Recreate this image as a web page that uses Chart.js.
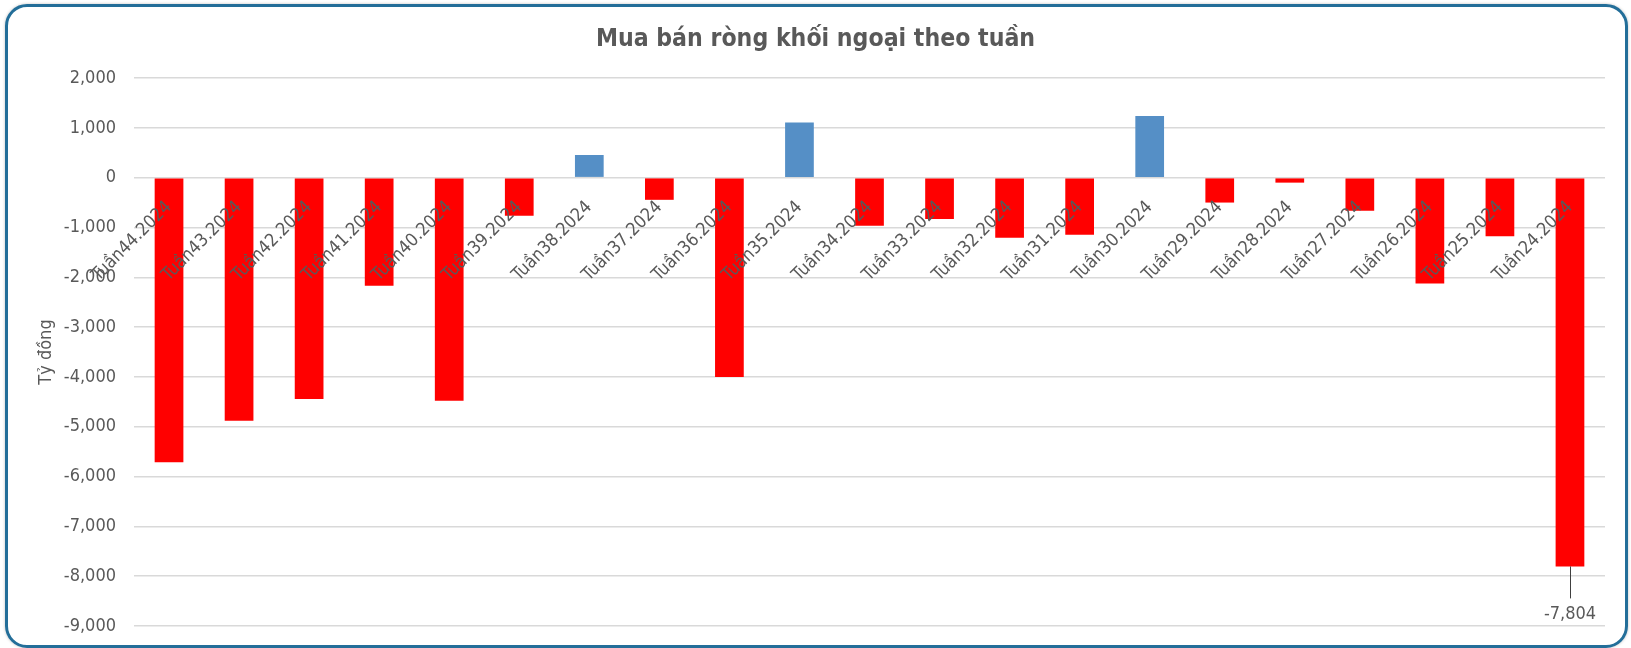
<!DOCTYPE html>
<html>
<head>
<meta charset="utf-8">
<script src="https://cdn.jsdelivr.net/npm/chart.js@4.4.1/dist/chart.umd.min.js"></script>
<style>
  html, body { margin: 0; background: #fff; overflow: hidden; }
  #wrap { position: relative; width: 1631px; height: 648px; }
  #chart { position: absolute; left: 0; top: 0; }
  #frame {
    position: absolute; left: 5px; top: 4px; width: 1623px; height: 644px;
    box-sizing: border-box; border: 3px solid #236e99; border-radius: 22px;
    box-shadow: 0 0 3px rgba(0,0,0,0.25); pointer-events: none;
  }
</style>
</head>
<body>
<div id="wrap">
  <canvas id="chart" width="1631" height="648"></canvas>
  <div id="frame"></div>
</div>
<script>
const weeks = [
  "Tuần44.2024", "Tuần43.2024", "Tuần42.2024", "Tuần41.2024", "Tuần40.2024",
  "Tuần39.2024", "Tuần38.2024", "Tuần37.2024", "Tuần36.2024", "Tuần35.2024",
  "Tuần34.2024", "Tuần33.2024", "Tuần32.2024", "Tuần31.2024", "Tuần30.2024",
  "Tuần29.2024", "Tuần28.2024", "Tuần27.2024", "Tuần26.2024", "Tuần25.2024",
  "Tuần24.2024"
]
const netValues = [
  -5715, -4880, -4445, -2170, -4480,
  -765, 455, -445, -4000, 1105,
  -965, -830, -1205, -1145, 1240,
  -500, -100, -665, -2125, -1175,
  -7804
]
const yTicks = [2000, 1000, 0, -1000, -2000, -3000, -4000, -5000, -6000, -7000, -8000, -9000]

const FONT = "'DejaVu Sans Condensed', 'DejaVu Sans', sans-serif"
const GREY = '#595959'

const barColors = netValues.map(v => v >= 0 ? '#558fc6' : '#ff0000')

// label under the biggest net sell bar, with a short leader line
const minLabel = {
  id: 'minLabel',
  afterDatasetsDraw(chart) {
    const idx = netValues.indexOf(Math.min(...netValues))
    const bar = chart.getDatasetMeta(0).data[idx]
    const ctx = chart.ctx
    ctx.save()
    ctx.strokeStyle = '#404040'
    ctx.lineWidth = 1
    ctx.beginPath()
    ctx.moveTo(Math.round(bar.x) + 0.5, bar.y)
    ctx.lineTo(Math.round(bar.x) + 0.5, bar.y + 32)
    ctx.stroke()
    ctx.fillStyle = GREY
    ctx.font = '18px ' + FONT
    ctx.textAlign = 'center'
    ctx.textBaseline = 'middle'
    ctx.fillText(netValues[idx].toLocaleString('en-US'), bar.x, bar.y + 48)
    ctx.restore()
  }
}

new Chart(document.getElementById('chart'), {
  type: 'bar',
  data: {
    labels: weeks,
    datasets: [{
      data: netValues,
      backgroundColor: barColors,
      borderWidth: 0,
      categoryPercentage: 1,
      barPercentage: 0.41
    }]
  },
  plugins: [minLabel],
  options: {
    responsive: false,
    animation: false,
    layout: { padding: { left: 26, right: 26, top: 0, bottom: 22 } },
    plugins: {
      legend: { display: false },
      tooltip: { enabled: false },
      title: {
        display: true,
        text: 'Mua bán ròng khối ngoại theo tuần',
        color: GREY,
        font: { family: FONT, size: 24.6, weight: 'bold' },
        padding: { top: 25, bottom: 23.5 }
      }
    },
    scales: {
      x: {
        position: { y: 0 },
        grid: { display: false, drawTicks: false },
        border: { display: false },
        ticks: {
          z: 1,
          color: GREY,
          font: { family: FONT, size: 18 },
          minRotation: 45,
          maxRotation: 45,
          autoSkip: false,
          padding: 19
        }
      },
      y: {
        min: -9000,
        max: 2000,
        afterBuildTicks: s => { s.ticks = yTicks.map(v => ({ value: v })) },
        afterFit: s => {
          s.width = 108
          s.paddingTop = 12
          s.paddingBottom = 12
        },
        grid: { color: '#d9d9d9', lineWidth: 1.5, drawTicks: false },
        border: { display: false },
        ticks: {
          color: GREY,
          font: { family: FONT, size: 18 },
          padding: 18,
          callback: v => v.toLocaleString('en-US')
        },
        title: {
          display: true,
          text: 'Tỷ đồng',
          color: GREY,
          font: { family: FONT, size: 18 },
          padding: { top: 10 }
        }
      }
    }
  }
})
</script>
</body>
</html>
